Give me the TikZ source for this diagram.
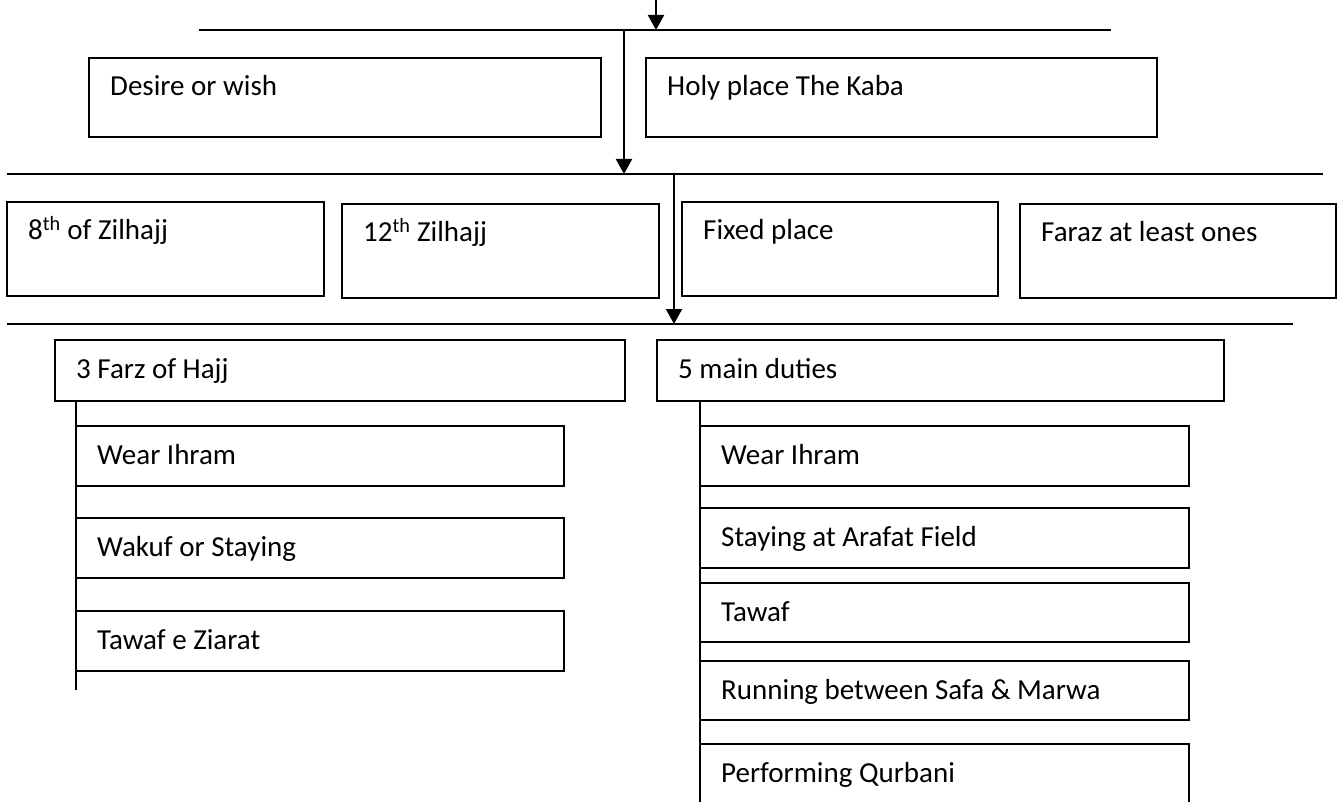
\documentclass[tikz,border=0pt]{standalone}
\usepackage{fontspec}
\setmainfont{Carlito}
\usetikzlibrary{arrows.meta}
\tikzset{
  box/.style={draw, line width=1.4pt, rectangle, inner sep=0pt, outer sep=0pt, anchor=north west},
  lbl/.style={anchor=base west, inner sep=0pt, font=\fontsize{29}{34}\selectfont},
  rule/.style={line width=1.5pt},
  tree/.style={line width=1.5pt},
  arr/.style={line width=2pt, -{Triangle[width=16pt,length=15pt]}},
}
\newcommand\mkbox[6]{%
  \node[box, minimum width={#4pt-#2pt}, minimum height={#5pt-#3pt}] (#1) at (#2,#3) {};
  \node[lbl] (#1-t) at ([shift={(21pt,-38pt)}]#1.north west) {#6};
}
\begin{document}
\begin{tikzpicture}[x=1pt,y=-1pt]
\useasboundingbox (0,0) rectangle (1343,802);
\fill[white] (0,0) rectangle (1343,802);
\clip (0,0) rectangle (1343,802);

% horizontal rules
\coordinate (l1a) at (199,30);  \coordinate (l1b) at (1111,30);
\coordinate (l2a) at (7,174);   \coordinate (l2b) at (1323,174);
\coordinate (l3a) at (7,324);   \coordinate (l3b) at (1293,324);
\draw[rule] (l1a) -- (l1b);
\draw[rule] (l2a) -- (l2b);
\draw[rule] (l3a) -- (l3b);

% arrows
\coordinate (in0) at (656,0);  \coordinate (in1) at (656,30);
\coordinate (a1s) at (624,30); \coordinate (a1e) at (624,174);
\coordinate (a2s) at (674,174); \coordinate (a2e) at (674,324);
\draw[arr] (in0) -- (in1);
\draw[arr] (a1s) -- (a1e);
\draw[arr] (a2s) -- (a2e);

% first row
\mkbox{desire}{89}{58}{601}{137}{Desire or wish}
\mkbox{holy}{646}{58}{1157}{137}{Holy place The Kaba}

% second row
\mkbox{eighth}{7}{202}{324}{296}{8\textsuperscript{th} of Zilhajj}
\mkbox{twelfth}{342}{204}{659}{298}{12\textsuperscript{th} Zilhajj}
\mkbox{fixed}{682}{202}{998}{296}{Fixed place}
\mkbox{faraz}{1020}{204}{1336}{298}{Faraz at least ones}

% third row
\mkbox{farz}{55}{340}{625}{401}{3 Farz of Hajj}
\mkbox{duties}{657}{340}{1224}{401}{5 main duties}

% left list
\mkbox{lw}{76}{426}{564}{486}{Wear Ihram}
\mkbox{lwak}{76}{518}{564}{578}{Wakuf or Staying}
\mkbox{ltaw}{76}{611}{564}{671}{Tawaf e Ziarat}

% right list
\mkbox{rw}{700}{426}{1189}{486}{Wear Ihram}
\mkbox{rstay}{700}{508}{1189}{568}{Staying at Arafat Field}
\mkbox{rtaw}{700}{583}{1189}{642}{Tawaf}
\mkbox{rrun}{700}{661}{1189}{720}{Running between Safa \& Marwa}
\mkbox{rperf}{700}{744}{1189}{840}{Performing Qurbani}

% tree lines
\coordinate (lend) at (76,690);
\coordinate (rend) at (700,810);
\draw[tree] (farz.south -| lw.west) -- (lend);
\draw[tree] (duties.south -| rw.west) -- (rend);
\end{tikzpicture}
\end{document}
